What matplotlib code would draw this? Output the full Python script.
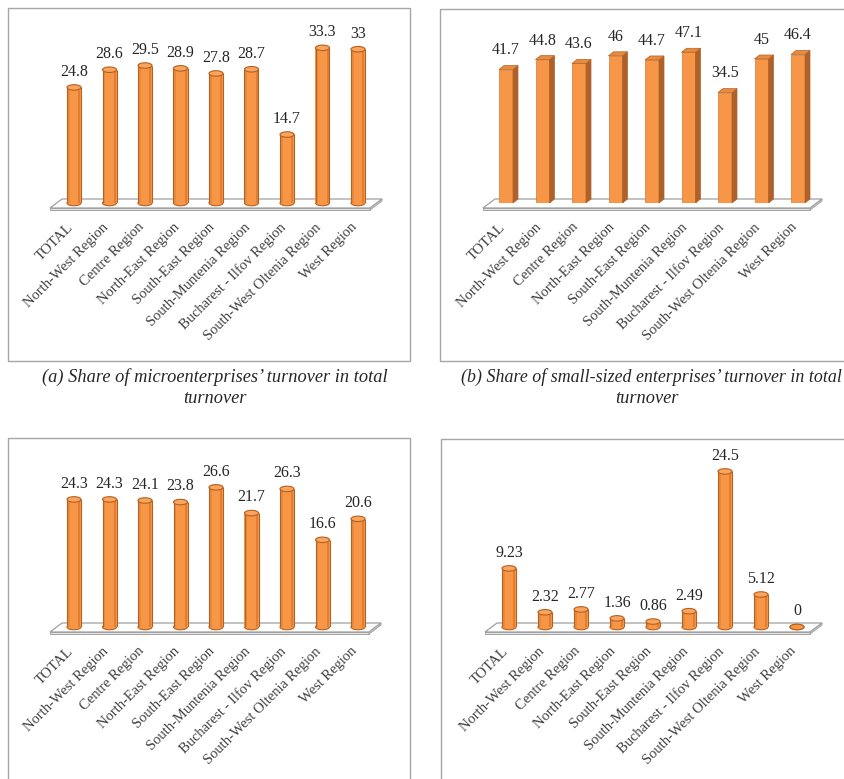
import matplotlib
matplotlib.use("Agg")
import matplotlib.pyplot as plt
from matplotlib.patches import Ellipse, Polygon, Rectangle
from matplotlib.transforms import Affine2D, ScaledTranslation

# ---------------- data ----------------
regions = ["TOTAL", "North-West Region", "Centre Region", "North-East Region",
           "South-East Region", "South-Muntenia Region", "Bucharest - Ilfov Region",
           "South-West Oltenia Region", "West Region"]
micro = [24.8, 28.6, 29.5, 28.9, 27.8, 28.7, 14.7, 33.3, 33.0]
small = [41.7, 44.8, 43.6, 46.0, 44.7, 47.1, 34.5, 45.0, 46.4]
medium = [24.3, 24.3, 24.1, 23.8, 26.6, 21.7, 26.3, 16.6, 20.6]
large = [9.23, 2.32, 2.77, 1.36, 0.86, 2.49, 24.5, 5.12, 0.0]
micro_lbl = ["24.8", "28.6", "29.5", "28.9", "27.8", "28.7", "14.7", "33.3", "33"]
small_lbl = ["41.7", "44.8", "43.6", "46", "44.7", "47.1", "34.5", "45", "46.4"]
medium_lbl = ["24.3", "24.3", "24.1", "23.8", "26.6", "21.7", "26.3", "16.6", "20.6"]
large_lbl = ["9.23", "2.32", "2.77", "1.36", "0.86", "2.49", "24.5", "5.12", "0"]
caption_a = ["(a) Share of microenterprises\u2019 turnover in total", "turnover"]
caption_b = ["(b) Share of small-sized enterprises\u2019 turnover in total", "turnover"]

W, H = 844, 779
fig = plt.figure(figsize=(W / 100, H / 100), dpi=100)
fig.patch.set_facecolor("white")
# pixel transform (origin top-left)
px = Affine2D().scale(1.0 / W, -1.0 / H).translate(0, 1) + fig.transFigure

ORANGE = "#F79646"
DARK = "#B5611F"
LIGHT = "#F9A560"
SIDE = "#AE6128"
SERIF = "Liberation Serif"

panels = [
    dict(vals=micro, lbls=micro_lbl, c0=74, step=35.5, base=203, ppu=4.66,
         fl=50, fr=382, box=(8, 8, 410, 361), style="cyl"),
    dict(vals=small, lbls=small_lbl, c0=506, step=36.5, base=203, ppu=3.2,
         fl=483, fr=822, box=(440, 9, 860, 361), style="box"),
    dict(vals=medium, lbls=medium_lbl, c0=74, step=35.5, base=627, ppu=5.25,
         fl=50, fr=381, box=(8, 438, 410, 790), style="cyl"),
    dict(vals=large, lbls=large_lbl, c0=509, step=36.0, base=627, ppu=6.35,
         fl=485, fr=822, box=(441, 439, 860, 790), style="cyl"),
]

for p in panels:
    x0, y0, x1, y1 = p["box"]
    fig.add_artist(Rectangle((x0, y0), x1 - x0, y1 - y0, transform=px,
                             fill=False, edgecolor="#A6A6A6", lw=1.0))
    top_px = y0 + 4
    ax = fig.add_axes([p["fl"] / W, 1 - p["base"] / H,
                       (p["fr"] - p["fl"]) / W, (p["base"] - top_px) / H])
    ax.set_facecolor("none")
    ax.set_xlim((p["fl"] - p["c0"]) / p["step"], (p["fr"] - p["c0"]) / p["step"])
    ax.set_ylim(0, (p["base"] - top_px) / p["ppu"])
    for s in ax.spines.values():
        s.set_visible(False)
    ax.set_yticks([])
    xs = list(range(len(regions)))
    ax.set_xticks(xs)
    ax.set_xticklabels(regions, rotation=45, ha="right", va="center",
                       rotation_mode="anchor", fontsize=10.5, family=SERIF,
                       color="#404040")
    ax.tick_params(axis="x", length=0, pad=16)
    shift = ScaledTranslation(-3 / 100, 0, fig.dpi_scale_trans)
    for lab in ax.get_xticklabels():
        lab.set_transform(lab.get_transform() + shift)

    # floor slab
    b = p["base"]
    fl, fr = p["fl"], p["fr"]
    floor_top = [(fl + 12, b - 4), (fr, b - 4), (fr - 12, b + 5), (fl, b + 5)]
    ax.add_patch(Polygon(floor_top, closed=True, transform=px, facecolor="white",
                         edgecolor="#A0A0A0", lw=0.9, zorder=1, clip_on=False))
    ax.add_patch(Polygon([(fl, b + 5), (fr - 12, b + 5), (fr - 12, b + 7), (fl, b + 7)],
                         closed=True, transform=px, facecolor="#E6E6E6",
                         edgecolor="#A0A0A0", lw=0.7, zorder=1, clip_on=False))
    ax.add_patch(Polygon([(fr - 12, b + 5), (fr, b - 4), (fr, b - 2), (fr - 12, b + 7)],
                         closed=True, transform=px, facecolor="#D0D0D0",
                         edgecolor="#A0A0A0", lw=0.7, zorder=1, clip_on=False))

    ppu = p["ppu"]
    if p["style"] == "cyl":
        w = 14.0 / p["step"]
        eh = 5.5 / ppu
        for x, v in zip(xs, p["vals"]):
            ax.add_patch(Ellipse((x, 0), w, eh, facecolor=ORANGE, edgecolor=DARK,
                                 lw=0.8, zorder=2, clip_on=False))
            if v > 0:
                ax.bar(x, v, width=w, color=ORANGE, edgecolor="none", zorder=3)
                ax.bar(x - w * 0.38, v, width=w * 0.12, color="#EA883C",
                       edgecolor="none", zorder=3)
                ax.bar(x + w * 0.38, v, width=w * 0.12, color="#E27E33",
                       edgecolor="none", zorder=3)
                ax.vlines([x - w / 2, x + w / 2], 0, v, color=DARK, lw=0.8, zorder=4)
            ax.add_patch(Ellipse((x, v), w, eh, facecolor=LIGHT if v > 0 else ORANGE,
                                 edgecolor=DARK, lw=0.8, zorder=5, clip_on=False))
        off = 5.5
    else:
        w = 14.0 / p["step"]
        dx = 5.0 / p["step"]
        dy = 4.0 / ppu
        ax.bar(xs, p["vals"], width=w, color=ORANGE, edgecolor="#D07A35",
               lw=0.5, zorder=3)
        for x, v in zip(xs, p["vals"]):
            ax.add_patch(Polygon([(x + w / 2, 0), (x + w / 2 + dx, dy),
                                  (x + w / 2 + dx, v + dy), (x + w / 2, v)],
                                 closed=True, facecolor=SIDE, edgecolor=SIDE,
                                 lw=0.5, zorder=3))
            ax.add_patch(Polygon([(x - w / 2, v), (x + w / 2, v),
                                  (x + w / 2 + dx, v + dy), (x - w / 2 + dx, v + dy)],
                                 closed=True, facecolor="#E88A40", edgecolor=DARK,
                                 lw=0.5, zorder=4))
        off = 8
    for x, v, t in zip(xs, p["vals"], p["lbls"]):
        ax.annotate(t, (x, v), xytext=(0, off), textcoords="offset points",
                    ha="center", va="bottom", fontsize=11.5, family=SERIF,
                    color="#262626", annotation_clip=False)

# captions
fig.text(215, 377, caption_a[0], transform=px, ha="center", va="center",
         fontsize=13.2, family=SERIF, style="italic", color="#262626")
fig.text(215, 399, caption_a[1], transform=px, ha="center", va="center",
         fontsize=13.2, family=SERIF, style="italic", color="#262626")
fig.text(842, 377, caption_b[0], transform=px, ha="right", va="center",
         fontsize=12.9, family=SERIF, style="italic", color="#262626")
fig.text(647, 399, caption_b[1], transform=px, ha="center", va="center",
         fontsize=13.2, family=SERIF, style="italic", color="#262626")

fig.savefig("out.png", dpi=100, facecolor="white")
